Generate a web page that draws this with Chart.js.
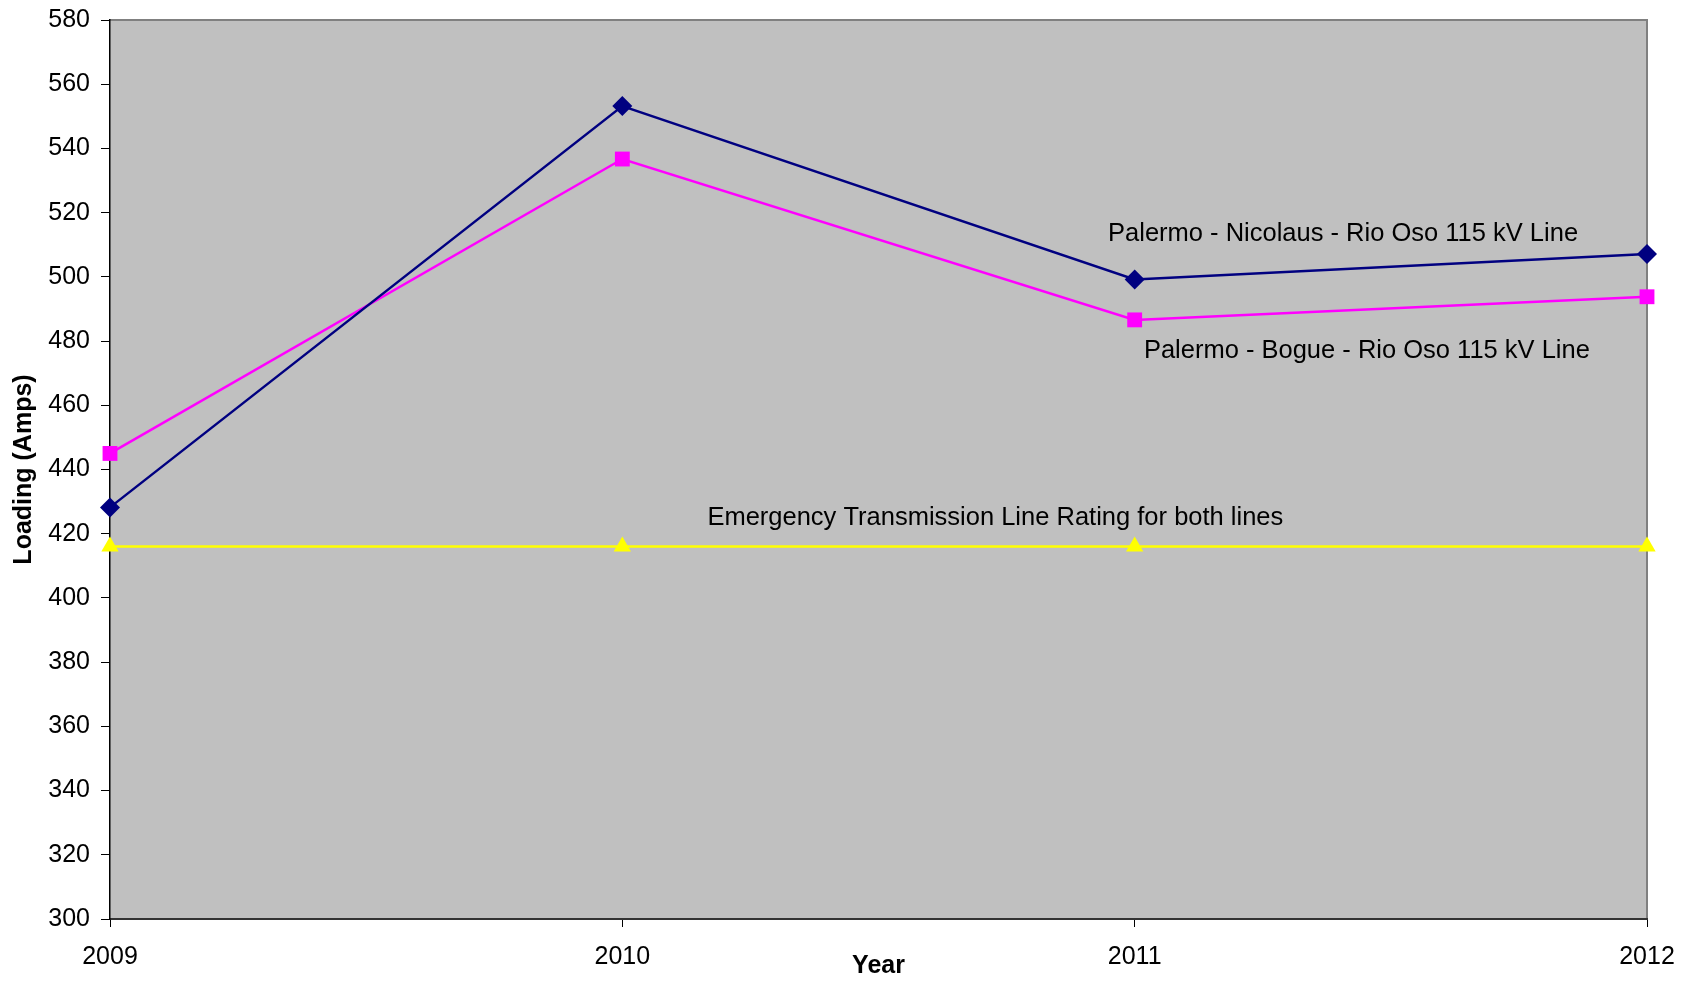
<!DOCTYPE html>
<html>
<head>
<meta charset="utf-8">
<script src="https://cdn.jsdelivr.net/npm/chart.js@4/dist/chart.umd.min.js"></script>
<style>
  html, body { margin: 0; padding: 0; background: #ffffff; }
  #wrap { width: 1692px; height: 981px; }
</style>
</head>
<body>
<div id="wrap"><canvas id="c" width="1692" height="981"></canvas></div>
<script>
const years = ['2009', '2010', '2011', '2012'];
const nicolausLoading = [428.2, 553.2, 499.2, 507.1];
const bogueLoading = [445.0, 536.7, 486.6, 493.8];
const emergencyRating = [416, 416, 416, 416];
const yMin = 300, yMax = 580, yStep = 20;

const FONT = 'Arial, "Liberation Sans", sans-serif';

const plotBg = {
  id: 'plotBg',
  beforeDraw(chart) {
    const {ctx, chartArea: a} = chart;
    ctx.save();
    ctx.fillStyle = '#C0C0C0';
    ctx.fillRect(a.left, a.top, a.right - a.left, a.bottom - a.top);
    ctx.strokeStyle = '#808080';
    ctx.lineWidth = 2;
    ctx.beginPath();
    ctx.moveTo(a.left, a.top);
    ctx.lineTo(a.right, a.top);
    ctx.lineTo(a.right, a.bottom);
    ctx.stroke();
    ctx.restore();
  }
};

const seriesLabels = {
  id: 'seriesLabels',
  afterDatasetsDraw(chart, args, opts) {
    const {ctx, scales: {x, y}} = chart;
    ctx.save();
    ctx.font = '25.5px ' + FONT;
    ctx.fillStyle = '#000';
    ctx.textAlign = 'left';
    ctx.textBaseline = 'middle';
    opts.items.forEach(it => {
      ctx.fillText(it.text, x.getPixelForValue(it.xi), y.getPixelForValue(it.yv));
    });
    ctx.restore();
  }
};

new Chart(document.getElementById('c'), {
  type: 'line',
  data: {
    labels: years,
    datasets: [
      {
        label: 'Palermo - Nicolaus - Rio Oso 115 kV Line',
        data: nicolausLoading,
        borderColor: '#000080',
        backgroundColor: '#000080',
        borderWidth: 2.5,
        pointStyle: 'rectRot',
        pointRadius: 10,
        pointBorderWidth: 0,
        tension: 0,
        clip: false
      },
      {
        label: 'Palermo - Bogue - Rio Oso 115 kV Line',
        data: bogueLoading,
        borderColor: '#FF00FF',
        backgroundColor: '#FF00FF',
        borderWidth: 2.5,
        pointStyle: 'rect',
        pointRadius: 10.5,
        pointBorderWidth: 0,
        tension: 0,
        clip: false
      },
      {
        label: 'Emergency Transmission Line Rating for both lines',
        data: emergencyRating,
        borderColor: '#FFFF00',
        backgroundColor: '#FFFF00',
        borderWidth: 2.5,
        pointStyle: 'triangle',
        pointRadius: 10,
        pointBorderWidth: 0,
        tension: 0,
        clip: false
      }
    ]
  },
  options: {
    responsive: false,
    animation: false,
    events: [],
    layout: { padding: { top: 20, right: 45, left: 0, bottom: 0 } },
    plugins: {
      legend: { display: false },
      tooltip: { enabled: false },
      seriesLabels: {
        items: [
          { text: 'Palermo - Nicolaus - Rio Oso 115 kV Line', xi: 1.948, yv: 513.3 },
          { text: 'Palermo - Bogue - Rio Oso 115 kV Line', xi: 2.018, yv: 476.9 },
          { text: 'Emergency Transmission Line Rating for both lines', xi: 1.166, yv: 425.0 }
        ]
      }
    },
    scales: {
      x: {
        type: 'category',
        offset: false,
        grid: { drawOnChartArea: false, drawTicks: true, tickLength: 8, color: '#000', lineWidth: 1 },
        border: { display: true, color: '#333', width: 2 },
        ticks: { color: '#000', font: { family: FONT, size: 25 }, padding: 15, maxRotation: 0, autoSkip: false },
        title: { display: true, text: 'Year', color: '#000', font: { family: FONT, size: 25, weight: 'bold' }, padding: { top: 2, bottom: 0 } },
        afterFit(s) { s.height = 62; s.paddingLeft = 0; s.paddingRight = 0; }
      },
      y: {
        min: yMin,
        max: yMax,
        grid: { drawOnChartArea: false, drawTicks: true, tickLength: 9, color: '#000', lineWidth: 1 },
        border: { display: true, color: '#000', width: 1.5 },
        ticks: { stepSize: yStep, color: '#000', font: { family: FONT, size: 25 }, padding: 11 },
        title: { display: true, text: 'Loading (Amps)', color: '#000', font: { family: FONT, size: 25, weight: 'bold' }, padding: { top: 9, bottom: 4 } },
        afterFit(s) { s.width = 110; s.paddingTop = 0; s.paddingBottom = 0; }
      }
    }
  },
  plugins: [plotBg, seriesLabels]
});
</script>
</body>
</html>
